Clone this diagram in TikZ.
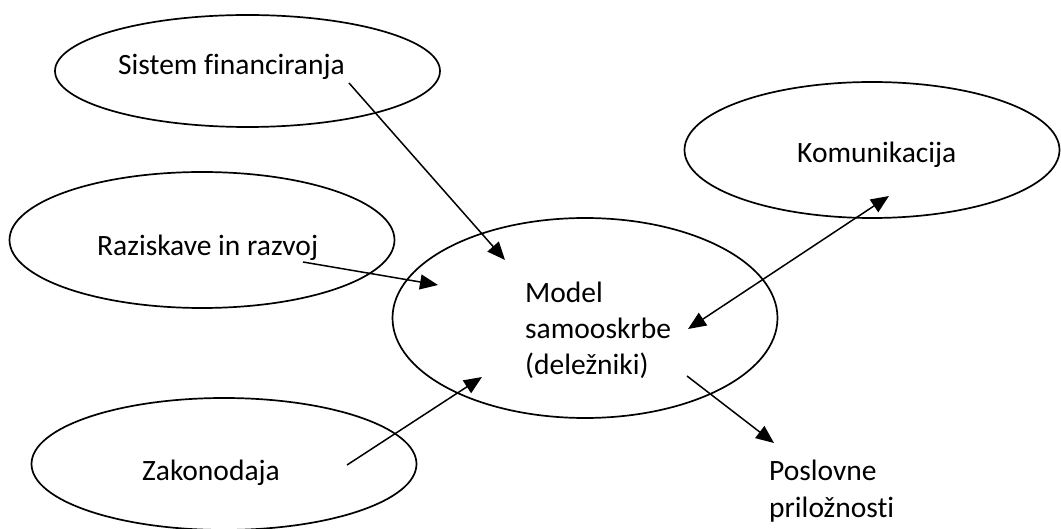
\documentclass[tikz,border=0pt]{standalone}
\usepackage{fontspec}
\setmainfont{Carlito}[Ligatures=CommonOff]
\usetikzlibrary{arrows.meta,shapes.geometric}
\begin{document}
\begin{tikzpicture}[x=1pt,y=-1pt,
  oval/.style={draw, ellipse, line width=1.7pt, inner sep=0pt},
  lbl/.style={font=\fontsize{29.5}{36.5}\selectfont, inner sep=0pt, anchor=base west, align=left},
  arr/.style={line width=1.5pt, -{Triangle[length=18pt,width=15pt]}},
  darr/.style={line width=1.5pt, {Triangle[length=18pt,width=15pt]}-{Triangle[length=18pt,width=15pt]}}
]
\useasboundingbox (0,0) rectangle (1061,529);
% ellipses
\node[oval, minimum width=385pt, minimum height=112pt] (sfE) at (247.5,71) {};
\node[oval, minimum width=385pt, minimum height=136pt] (rrE) at (202,240) {};
\node[oval, minimum width=385pt, minimum height=132pt] (zkE) at (224,464) {};
\node[oval, minimum width=385pt, minimum height=200pt] (msE) at (585,318) {};
\node[oval, minimum width=375pt, minimum height=136pt] (kmE) at (872,150) {};
% labels
\node[lbl] (sf) at (118,75) {Sistem financiranja};
\node[lbl] (rr) at (97,256) {Raziskave in razvoj};
\node[lbl] (zk) at (142,480) {Zakonodaja};
\node[lbl] (km) at (797,163) {Komunikacija};
\node[lbl] (ms) at (525,375) {Model\\samooskrbe\\(deležniki)};
\node[lbl] (po) at (769,517) {Poslovne\\priložnosti};
% connector end points
\coordinate (a1s) at (349,83);  \coordinate (a1e) at (505,260);
\coordinate (a2s) at (303,262); \coordinate (a2e) at (438,285);
\coordinate (a3s) at (347,465); \coordinate (a3e) at (482,377);
\coordinate (a4s) at (688,329); \coordinate (a4e) at (889,196);
\coordinate (a5s) at (687,376); \coordinate (a5e) at (774,443);
% connectors
\draw[arr] (a1s) -- (a1e);
\draw[arr] (a2s) -- (a2e);
\draw[arr] (a3s) -- (a3e);
\draw[darr] (a4s) -- (a4e);
\draw[arr] (a5s) -- (a5e);
\end{tikzpicture}
\end{document}
